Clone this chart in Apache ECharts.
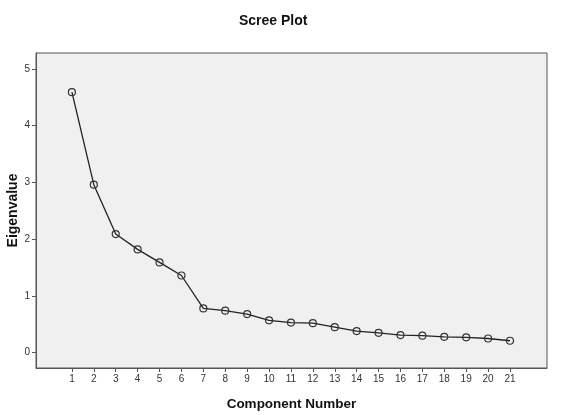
<!DOCTYPE html>
<html>
<head>
<meta charset="utf-8">
<script src="https://cdn.jsdelivr.net/npm/echarts@6/dist/echarts.min.js"></script>
<style>
  html, body { margin: 0; padding: 0; background: #fff; }
  #main { width: 580px; height: 415px; }
</style>
</head>
<body>
<div id="main"></div>
<script>
// component numbers and eigenvalues
var components = [1, 2, 3, 4, 5, 6, 7, 8, 9, 10, 11, 12, 13, 14, 15, 16, 17, 18, 19, 20, 21];
var eigenvalues = [4.59, 2.96, 2.09, 1.82, 1.59, 1.36, 0.78, 0.74, 0.68, 0.57, 0.53,
                   0.52, 0.45, 0.38, 0.35, 0.31, 0.30, 0.28, 0.27, 0.25, 0.21];
var yTicks = [0, 1, 2, 3, 4, 5];

var myChart = echarts.init(document.getElementById('main'));

var points = components.map(function (c, i) { return [c, eigenvalues[i]]; });

var option = {
    animation: false,
    backgroundColor: '#fff',
    title: {
        text: 'Scree Plot',
        left: 234,
        top: 9,
        textStyle: { fontFamily: 'Liberation Sans', fontSize: 14, fontWeight: 'bold', color: '#111' }
    },
    grid: {
        left: 36, top: 53, right: 33, bottom: 47,
        outerBoundsMode: 'none',
        containLabel: false,
        show: true,
        backgroundColor: '#f0f0f0',
        borderColor: '#555',
        borderWidth: 1
    },
    xAxis: {
        type: 'value',
        min: -0.64,
        max: 22.69,
        name: 'Component Number',
        nameLocation: 'middle',
        nameGap: 29,
        nameMoveOverlap: false,
        nameTextStyle: { fontFamily: 'Liberation Sans', fontSize: 13.5, fontWeight: 'bold', color: '#111' },
        splitLine: { show: false },
        axisLine: { onZero: false, lineStyle: { color: '#555' } },
        axisTick: { show: true, length: 4, customValues: components, lineStyle: { color: '#555' } },
        axisLabel: { customValues: components, fontFamily: 'Liberation Sans', fontSize: 10, color: '#333', margin: 6 }
    },
    yAxis: {
        type: 'value',
        min: -0.27,
        max: 5.28,
        name: 'Eigenvalue',
        nameLocation: 'middle',
        nameGap: 16,
        nameMoveOverlap: false,
        nameTextStyle: { fontFamily: 'Liberation Sans', fontSize: 14, fontWeight: 'bold', color: '#111' },
        splitLine: { show: false },
        axisLine: { show: true, onZero: false, lineStyle: { color: '#555' } },
        axisTick: { show: true, length: 4, customValues: yTicks, lineStyle: { color: '#555' } },
        axisLabel: { customValues: yTicks, fontFamily: 'Liberation Sans', fontSize: 10, color: '#333', margin: 6 }
    },
    series: [{
        type: 'line',
        data: points,
        symbol: 'circle',
        symbolSize: 7,
        itemStyle: { color: 'transparent', borderColor: '#333', borderWidth: 1.2 },
        lineStyle: { color: '#222', width: 1.3 }
    }]
};

myChart.setOption(option);
</script>
</body>
</html>
